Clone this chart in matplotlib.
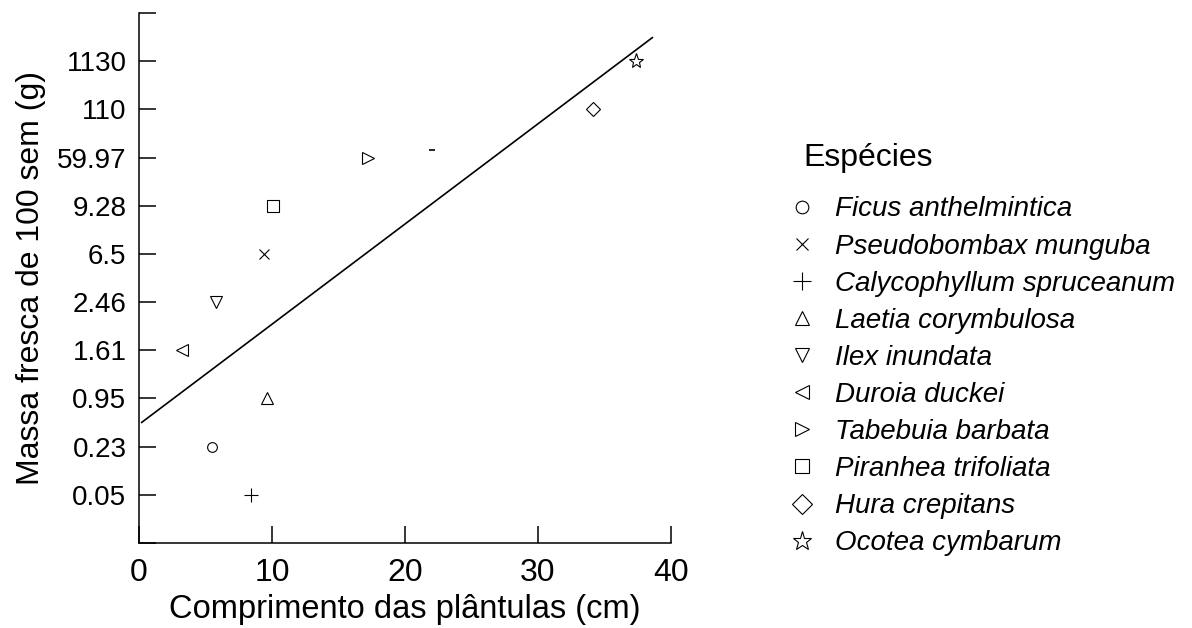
'''Massa fresca de 100 sementes vs comprimento das plantulas, por especie
'''

import numpy as np
import matplotlib
matplotlib.use('Agg')
import matplotlib.pyplot as plt  # noqa E402

plt.rcParams['font.family'] = ['Liberation Sans', 'DejaVu Sans']

# especies, comprimento (cm) e posicao na escala de massa (1..10)
especies = ["Ficus anthelmintica", "Pseudobombax munguba",
            "Calycophyllum spruceanum", "Laetia corymbulosa",
            "Ilex inundata", "Duroia duckei", "Tabebuia barbata",
            "Piranhea trifoliata", "Hura crepitans", "Ocotea cymbarum"]
marcadores = ['o', 'x', '+', '^', 'v', '<', '>', 's', 'D', '*']
comprimento = [5.5, 9.4, 8.4, 9.6, 5.8, 3.2, 17.2, 10.1, 34.1, 37.4]
massa_pos = [2, 6, 1, 3, 5, 4, 8, 7, 9, 10]

massa_labels = ["0.05", "0.23", "0.95", "1.61", "2.46",
                "6.5", "9.28", "59.97", "110", "1130"]

# reta ajustada
reta_x = [0.2, 38.6]
reta_a = 2.46
reta_b = 0.208

# pequeno traco solto no grafico
traco_x = [22.0]
traco_y = [8.16]

fig = plt.figure(figsize=(11.92, 6.28), dpi=100)
ax = fig.add_axes([0.1166, 0.1354, 0.4463, 0.8439])

sizes = {'o': 7, 'x': 7, '+': 10, '^': 8, 'v': 8, '<': 8, '>': 8,
         's': 8, 'D': 7.5, '*': 11}
handles = []
for nome, mk, cx, my in zip(especies, marcadores, comprimento, massa_pos):
    h, = ax.plot([cx], [my], linestyle='none', marker=mk,
                 markersize=sizes[mk], markerfacecolor='none',
                 markeredgecolor='black', markeredgewidth=0.8, label=nome)
    handles.append(h)

rx = np.array(reta_x)
ax.plot(rx, reta_a + reta_b * rx, color='black', linewidth=1.2)
ax.plot(traco_x, traco_y, linestyle='none', marker='_', markersize=4,
        markeredgecolor='black', markeredgewidth=1.2)

ax.set_xlim(0, 40)
ax.set_ylim(0, 11)
ax.set_xticks([0, 10, 20, 30, 40])
ax.set_yticks(range(0, 12))
ax.set_yticklabels([""] + massa_labels + [""])

for s in ['top', 'right']:
    ax.spines[s].set_visible(False)
for s in ['left', 'bottom']:
    ax.spines[s].set_linewidth(1.1)

ax.tick_params(axis='both', direction='in', length=12, width=1.1,
               colors='black')
ax.tick_params(axis='x', pad=11, labelsize=23)
ax.tick_params(axis='y', pad=9, labelsize=20)

ax.set_xlabel("Comprimento das plântulas (cm)", fontsize=23.5, labelpad=4)
ax.set_ylabel("Massa fresca de 100 sem (g)", fontsize=23, labelpad=8)

# titulo da legenda separado, para controlar o espaco
fig.text(0.674, 1 - 158 / 628, "Espécies", fontsize=23,
         ha='left', va='center')

leg = fig.legend(handles=handles, loc='upper left',
                 bbox_to_anchor=(0.64, 0.727), frameon=False,
                 prop={'size': 20, 'style': 'italic'},
                 markerscale=1.3,
                 handlelength=1.0, handletextpad=0.7,
                 labelspacing=0.40)

fig.savefig("out.png", dpi=100)
plt.close(fig)
